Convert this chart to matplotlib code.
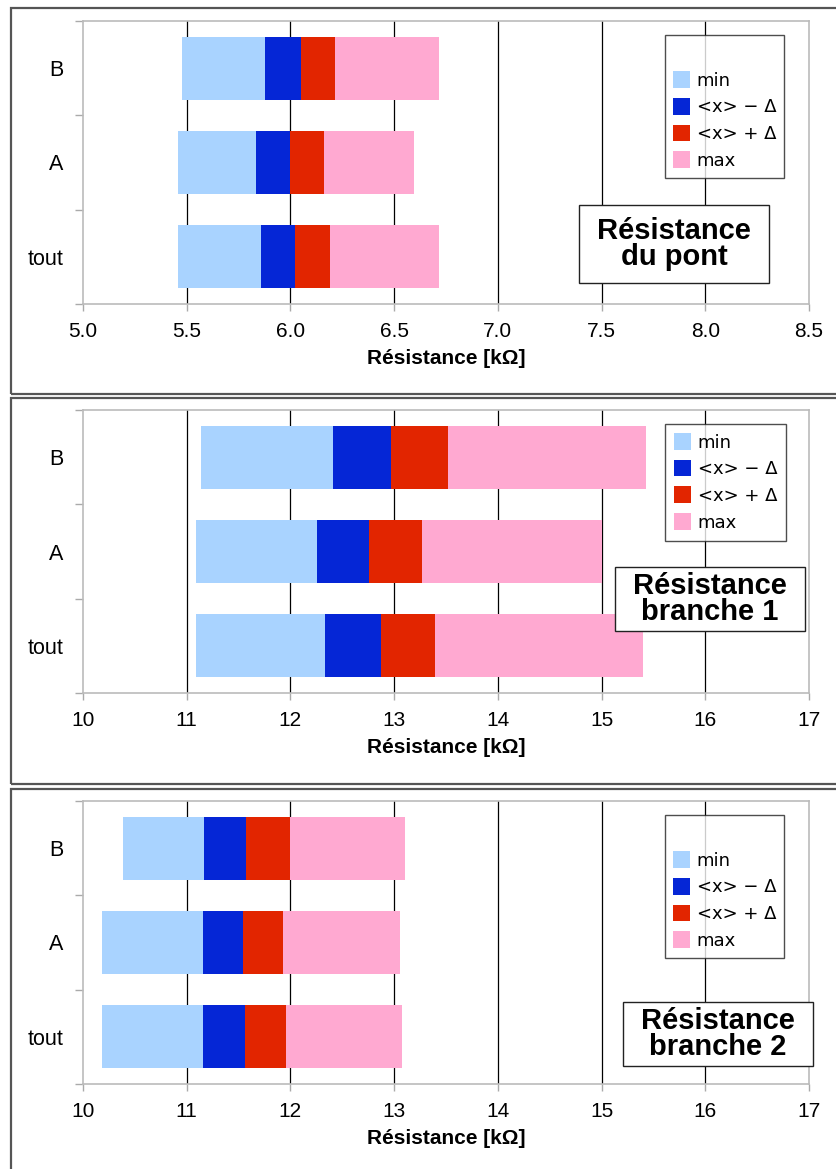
import matplotlib
matplotlib.use("Agg")
import matplotlib.pyplot as plt
from matplotlib.patches import Rectangle, Patch

categories = ["tout", "A", "B"]

# panel 1: Résistance du pont
p1_min  = [5.457, 5.457, 5.478]
p1_lo   = [5.858, 5.835, 5.878]
p1_mean = [6.020, 5.999, 6.050]
p1_hi   = [6.192, 6.163, 6.217]
p1_max  = [6.715, 6.597, 6.715]

# panel 2: Résistance branche 1
p2_min  = [11.092, 11.092, 11.133]
p2_lo   = [12.332, 12.255, 12.414]
p2_mean = [12.870, 12.758, 12.968]
p2_hi   = [13.398, 13.265, 13.516]
p2_max  = [15.402, 15.003, 15.428]

# panel 3: Résistance branche 2
p3_min  = [10.179, 10.179, 10.384]
p3_lo   = [11.158, 11.158, 11.169]
p3_mean = [11.563, 11.543, 11.574]
p3_hi   = [11.958, 11.927, 11.994]
p3_max  = [13.080, 13.055, 13.101]

legend_labels = ["min", "<x> \u2212 \u0394", "<x> + \u0394", "max"]
colors = ["#A9D3FF", "#0526D6", "#E22500", "#FFA9D1"]

titles = ["Résistance\ndu pont", "Résistance\nbranche 1", "Résistance\nbranche 2"]
xticks1 = [5.0, 5.5, 6.0, 6.5, 7.0, 7.5, 8.0, 8.5]
xticks23 = [10, 11, 12, 13, 14, 15, 16, 17]
xlabel = "Résistance [k\u03A9]"

W, H = 836, 1169
fig = plt.figure(figsize=(W / 100, H / 100), dpi=100)
narrow = ["Liberation Sans", "DejaVu Sans"]

# panel frames (pixel coords)
frames = [(11, 8, 900, 394), (11, 398, 900, 784), (11, 789, 900, 1200)]
for (x0, y0, x1, y1) in frames:
    fig.patches.append(Rectangle((x0 / W, 1 - y1 / H), (x1 - x0) / W, (y1 - y0) / H,
                                 transform=fig.transFigure, fill=False,
                                 edgecolor="#555555", linewidth=1.6, zorder=0))

axes_px = [(83, 21, 809, 304), (83, 410, 809, 693), (83, 801, 809, 1084)]
data = [
    (p1_min, p1_lo, p1_mean, p1_hi, p1_max, xticks1, "%.1f"),
    (p2_min, p2_lo, p2_mean, p2_hi, p2_max, xticks23, "%d"),
    (p3_min, p3_lo, p3_mean, p3_hi, p3_max, xticks23, "%d"),
]
legend_px = [(665, 35, 791, 179, True), (665, 424, 792, 549, False), (665, 815, 792, 960, True)]
title_px = [(579, 205, 769, 283), (615, 567, 805, 631), (623, 1002, 813, 1066)]

for i, ((l, t, r, b), (mn, lo, me, hi, mx, xt, fmt)) in enumerate(zip(axes_px, data)):
    ax = fig.add_axes([l / W, 1 - b / H, (r - l) / W, (b - t) / H])
    y = list(range(len(categories)))
    bounds = [mn, lo, me, hi, mx]
    handles = []
    for k in range(4):
        widths = [bounds[k + 1][j] - bounds[k][j] for j in y]
        ax.barh(y, widths, left=bounds[k], height=0.67, color=colors[k],
                edgecolor="none", zorder=3)
        handles.append(Patch(facecolor=colors[k], edgecolor="none"))
    ax.set_xlim(xt[0], xt[-1])
    ax.set_ylim(-0.5, 2.5)
    ax.set_xticks(xt)
    ax.set_xticklabels([fmt % v for v in xt], fontsize=15, family=narrow)
    ax.set_yticks(y)
    ax.set_yticklabels(categories, fontsize=15.5, family=narrow)
    ax.set_yticks([-0.5, 0.5, 1.5, 2.5], minor=True)
    ax.tick_params(axis="y", which="major", length=0, pad=14)
    ax.tick_params(axis="y", which="minor", length=6, color="#aaaaaa", width=1)
    ax.tick_params(axis="x", which="major", length=5, color="#aaaaaa", width=1, pad=8)
    for s in ax.spines.values():
        s.set_color("#bbbbbb")
        s.set_linewidth(1.2)
    for v in xt[1:-1]:
        ax.axvline(v, color="black", linewidth=0.9, zorder=1)
    ax.set_xlabel(xlabel, fontsize=15, fontweight="bold", family=narrow, labelpad=6)

    lx0, ly0, lx1, ly1, blank = legend_px[i]
    leg = fig.legend(handles, legend_labels, loc="upper left",
                     bbox_to_anchor=(lx0 / W, 1 - ly0 / H), bbox_transform=fig.transFigure,
                     fontsize=13, frameon=True, fancybox=False, edgecolor="#222222",
                     handlelength=0.95, handleheight=1.05, handletextpad=0.35,
                     labelspacing=0.45, borderpad=0.5 if not blank else 0.45,
                     borderaxespad=0, title=" " if blank else None, title_fontsize=15)
    leg.get_frame().set_linewidth(1.0)

    tx0, ty0, tx1, ty1 = title_px[i]
    fig.patches.append(Rectangle((tx0 / W, 1 - ty1 / H), (tx1 - tx0) / W, (ty1 - ty0) / H,
                                 transform=fig.transFigure, facecolor="white",
                                 edgecolor="#222222", linewidth=1.0, zorder=5))
    fig.text((tx0 + tx1) / 2 / W, 1 - (ty0 + ty1) / 2 / H, titles[i],
             ha="center", va="center", fontsize=21, fontweight="bold",
             family=narrow, linespacing=0.95, zorder=6)

fig.savefig("out.png", dpi=100)
